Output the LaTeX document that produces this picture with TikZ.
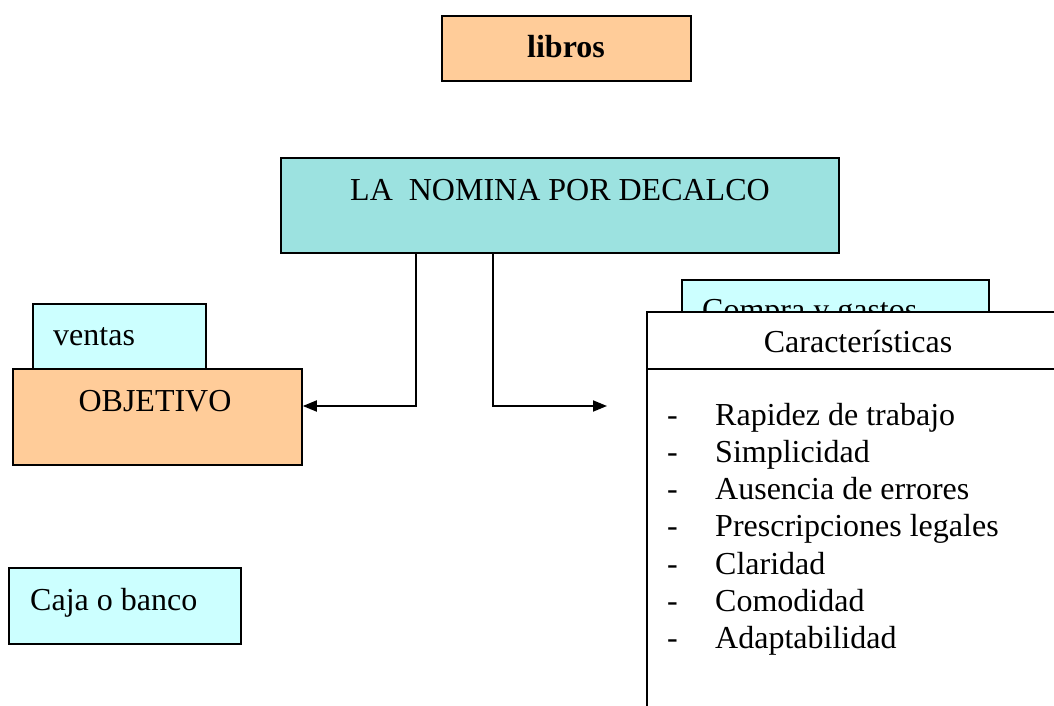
\documentclass[tikz,border=0pt]{standalone}
\usepackage{fontspec}
\setmainfont{Liberation Serif}
\usetikzlibrary{arrows.meta}
\definecolor{peach}{HTML}{FFCC99}
\definecolor{lcyan}{HTML}{CCFFFF}
\definecolor{teal2}{HTML}{9CE2E0}
\newcommand{\fs}{\fontsize{32}{36}\selectfont}
\begin{document}
\begin{tikzpicture}[x=1pt,y=-1pt,
  box/.style={draw, line width=1.8pt, inner sep=0pt, anchor=north west},
  txt/.style={inner sep=0pt, font=\fs},
  conn/.style={line width=1.8pt, -{Triangle[length=14pt,width=11pt]}}]
\useasboundingbox (0,0) rectangle (1054,706);
\clip (0,0) rectangle (1054,706);
% top box
\node[box, fill=peach, minimum width=249pt, minimum height=65pt] (libros) at (441,15) {};
\node[txt, font=\fs\bfseries, anchor=base] (librost) at (566,58) {libros};
% main box
\node[box, fill=teal2, minimum width=558pt, minimum height=95pt] (main) at (280,157) {};
\node[txt, anchor=base] (maint) at (560,200) {LA\ \ NOMINA POR DECALCO};
% left boxes
\node[box, fill=lcyan, minimum width=173pt, minimum height=66pt] (ventas) at (32,303) {};
\node[txt, anchor=base west] (ventast) at (53,345) {ventas};
\node[box, fill=peach, minimum width=289pt, minimum height=96pt] (objetivo) at (12,368) {};
\node[txt, anchor=base] (objetivot) at (155,411) {OBJETIVO};
\node[box, fill=lcyan, minimum width=232pt, minimum height=76pt] (caja) at (8,567) {};
\node[txt, anchor=base west] (cajat) at (30,610) {Caja o banco};
% right boxes
\node[box, fill=lcyan, minimum width=307pt, minimum height=60pt] (compra) at (681,279) {};
\node[txt, anchor=base west] (comprat) at (702,320) {Compra y gastos};
\node[box, fill=white, minimum width=424pt, minimum height=57pt] (carach) at (646,311) {};
\node[txt, anchor=base] (caracht) at (858,352) {Características};
\node[box, fill=white, minimum width=424pt, minimum height=360pt] (caracb) at (646,368) {};
\foreach \t [count=\i from 0] in {Rapidez de trabajo, Simplicidad, Ausencia de errores, Prescripciones legales, Claridad, Comodidad, Adaptabilidad}{
  \node[txt, anchor=base west] (d\i) at (667,425+37.3*\i) {-};
  \node[txt, anchor=base west] (item\i) at (715,425+37.3*\i) {\t};
}
% connectors
\coordinate (j1) at (416,406);
\coordinate (j2) at (493,406);
\coordinate (rend) at (607,406);
\draw[conn] (main.south -| j1) -- (j1) -- (objetivo.east |- j1);
\draw[conn] (main.south -| j2) -- (j2) -- (rend);
\end{tikzpicture}
\end{document}
